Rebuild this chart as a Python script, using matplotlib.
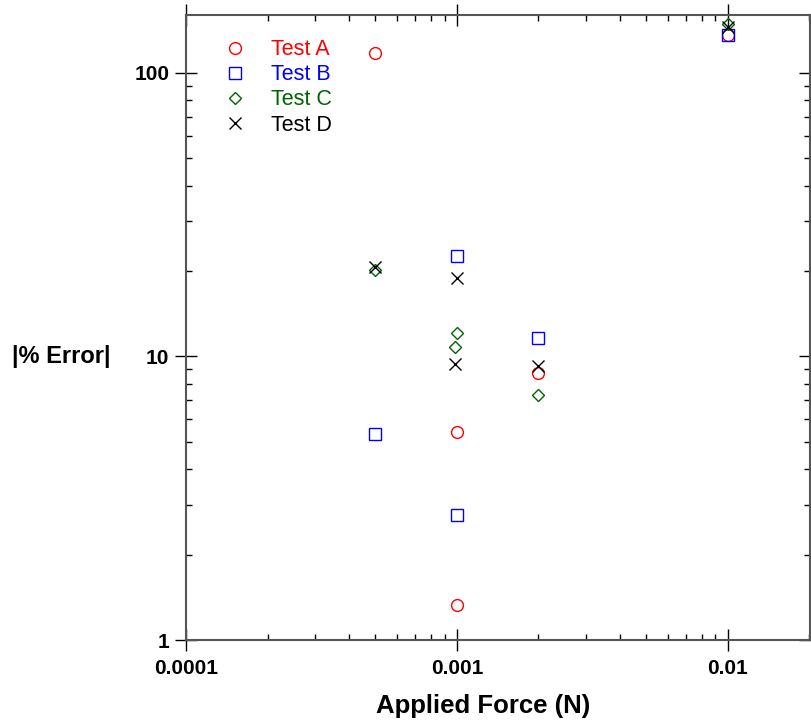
import numpy as np
import matplotlib
matplotlib.use("Agg")
import matplotlib.pyplot as plt
from matplotlib.ticker import FixedLocator, FixedFormatter, LogLocator, NullFormatter

plt.rcParams['font.family'] = ['Liberation Sans', 'DejaVu Sans']

# data (applied force in N, |% error|)
x_a = [0.0005, 0.001, 0.001, 0.002, 0.01]
err_a = [117.7, 5.42, 1.33, 8.74, 136]

x_b = [0.0005, 0.001, 0.001, 0.002, 0.01]
err_b = [5.33, 22.6, 2.76, 11.6, 136]

x_c = [0.0005, 0.001, 0.00098, 0.002, 0.01]
err_c = [20.2, 12.1, 10.8, 7.32, 149]

x_d = [0.0005, 0.001, 0.00098, 0.002, 0.01]
err_d = [20.7, 18.9, 9.41, 9.26, 145]

series = [
    ("Test A", x_a, err_a, 'o', '#ff0000', 8.5),
    ("Test B", x_b, err_b, 's', '#0000ff', 8.5),
    ("Test C", x_c, err_c, 'D', '#006400', 6.5),
    ("Test D", x_d, err_d, 'x', '#000000', 9),
]

fig = plt.figure(figsize=(8.12, 7.23), dpi=100)
ax = fig.add_axes([186 / 812, 1 - 640 / 723, (810 - 186) / 812, (640 - 15) / 723])

for name, xs, ys, mk, col, ms in series:
    if mk == 'x':
        ax.plot(xs, ys, linestyle='none', marker=mk, markersize=ms, color=col,
                markeredgewidth=1.0, label=name)
    else:
        ax.plot(xs, ys, linestyle='none', marker=mk, markersize=ms,
                markerfacecolor='none', markeredgecolor=col, markeredgewidth=1.0, label=name)

ax.set_xscale('log')
ax.set_yscale('log')
ax.set_xlim(0.0001, 0.0201)
ax.set_ylim(1, 160)

ax.xaxis.set_major_locator(FixedLocator([0.0001, 0.001, 0.01]))
ax.xaxis.set_major_formatter(FixedFormatter(["0.0001", "0.001", "0.01"]))
ax.yaxis.set_major_locator(FixedLocator([1, 10, 100]))
ax.yaxis.set_major_formatter(FixedFormatter(["1", "10", "100"]))
ax.xaxis.set_minor_locator(LogLocator(base=10, subs=np.arange(2, 10)))
ax.yaxis.set_minor_locator(LogLocator(base=10, subs=np.arange(2, 10)))
ax.xaxis.set_minor_formatter(NullFormatter())
ax.yaxis.set_minor_formatter(NullFormatter())

ax.tick_params(which='major', direction='inout', length=16, width=1.0,
               top=True, right=True, labelsize=15)
ax.tick_params(axis='x', which='major', pad=6)
ax.tick_params(axis='y', which='major', pad=4)
ax.tick_params(which='minor', direction='in', length=4, width=1.0,
               top=True, right=True)
for lab in ax.get_xticklabels() + ax.get_yticklabels():
    lab.set_fontweight('bold')

for sp in ax.spines.values():
    sp.set_color('#555555')
    sp.set_linewidth(1.5)

ax.set_xlabel("Applied Force (N)", fontsize=18.5, fontweight='bold', va='top')
ax.xaxis.set_label_coords(0.476, -0.087)
ax.set_ylabel("|% Error|", fontsize=17, fontweight='bold', rotation=0,
              ha='center', va='center')
ax.yaxis.set_label_coords(-0.2003, 0.4528)

leg = ax.legend(loc='upper left', bbox_to_anchor=(0.044, 0.975), frameon=False,
                fontsize=15.5, handlelength=1.2, handletextpad=1.07,
                labelspacing=0.19, borderaxespad=0)
for txt, s in zip(leg.get_texts(), series):
    txt.set_color(s[4])

fig.savefig("out.png", dpi=100)
